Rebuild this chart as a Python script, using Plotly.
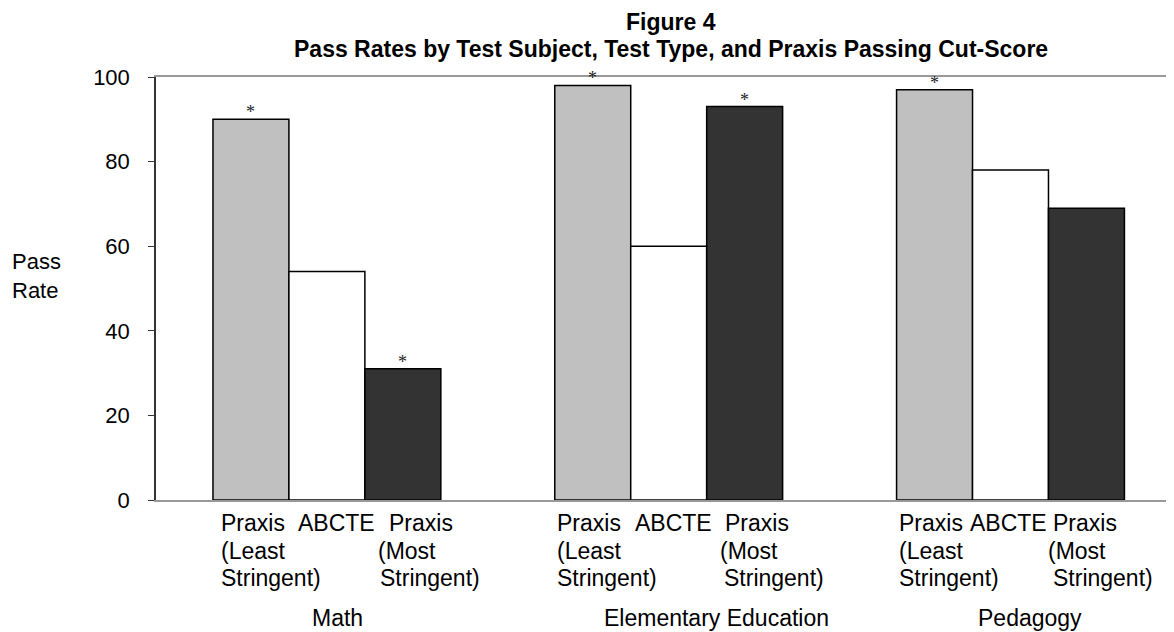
import plotly.graph_objects as go

# ---- data ----
groups = ["Math", "Elementary Education", "Pedagogy"]
series_names = ["Praxis (Least Stringent)", "ABCTE", "Praxis (Most Stringent)"]
praxis_least = [90, 98, 97]
abcte = [54, 60, 78]
praxis_most = [31, 93, 69]
# significance markers (asterisks) per series
sig_least = [True, True, True]
sig_abcte = [False, False, False]
sig_most = [True, True, False]
y_ticks = [0, 20, 40, 60, 80, 100]

title_line1 = "Figure 4"
title_line2 = "Pass Rates by Test Subject, Test Type, and Praxis Passing Cut-Score"
y_title = "Pass<br>Rate"

# ---- style ----
OFF = 8  # default page body margin
W, H = 1174 - OFF, 632 - OFF
ML, MR, MT, MB = 156 - OFF, 0, 77 - OFF, 132
PW = W - ML - MR
PH = H - MT - MB
CAT_PX = 341.8  # pixels per category
x_range = [-0.5, -0.5 + PW / CAT_PX]
bargap = 1 / 3
bar_w = (1 - bargap) / 3
colors = ["#C0C0C0", "#FFFFFF", "#333333"]
FONT = "Liberation Sans, Arial, sans-serif"
LBL = 23
TICK = 22

series_vals = [praxis_least, abcte, praxis_most]
series_sig = [sig_least, sig_abcte, sig_most]
xs = list(range(len(groups)))

fig = go.Figure()
for name, vals, col in zip(series_names, series_vals, colors):
    fig.add_trace(go.Bar(
        x=xs, y=vals, name=name,
        marker=dict(color=col, line=dict(color="#000000", width=1.5)),
        hoverinfo="x+y",
    ))

annotations = []
# asterisks
for k, (vals, sigs) in enumerate(zip(series_vals, series_sig)):
    for g, (v, s) in enumerate(zip(vals, sigs)):
        if s:
            annotations.append(dict(
                x=g + (k - 1) * bar_w, y=v, xref="x", yref="y",
                text="*", showarrow=False, yanchor="bottom", xanchor="center",
                yshift=-5, font=dict(family="Liberation Serif, Times New Roman, serif", size=18, color="#222222"),
            ))

# per-bar category labels (three lines each), offsets relative to group centre (px)
label_lines = [
    ["Praxis", "(Least", "Stringent)"],
    ["ABCTE"],
    ["Praxis", "(Most", "Stringent)"],
]
label_offsets = [
    [[-108, -108, -108], [-31], [60, 49, 51]],
    [[-114, -114, -114], [-36], [54, 49, 53]],
    [[-114, -114, -114], [-43], [40, 35, 40]],
]
group_label_offsets = [11, 48, 19]
LINE_PX = 27.5
for g in range(len(groups)):
    for k, lines in enumerate(label_lines):
        for i, t in enumerate(lines):
            annotations.append(dict(
                x=g, y=0, xref="x", yref="paper", text=t, showarrow=False,
                xanchor="left", yanchor="top",
                xshift=label_offsets[g][k][i], yshift=-8 - i * LINE_PX,
                font=dict(family=FONT, size=LBL, color="#000000"),
            ))
    annotations.append(dict(
        x=g, y=0, xref="x", yref="paper", text=groups[g], showarrow=False,
        xanchor="center", yanchor="top", xshift=group_label_offsets[g], yshift=-103,
        font=dict(family=FONT, size=LBL, color="#000000"),
    ))

# y-axis title
annotations.append(dict(
    x=(10 - OFF - ML) / PW, y=(H - MB - (276 - OFF)) / PH, xref="paper", yref="paper",
    text=y_title, showarrow=False, xanchor="left", yanchor="middle", align="left",
    font=dict(family=FONT, size=TICK, color="#000000"),
))
# title
TX = (671 - OFF - ML) / PW
annotations.append(dict(x=TX, y=1, xref="paper", yref="paper", text="<b>%s</b>" % title_line1,
                        showarrow=False, xanchor="center", yanchor="top", yshift=69, borderpad=0,
                        font=dict(family=FONT, size=23, color="#000000")))
annotations.append(dict(x=TX, y=1, xref="paper", yref="paper", text="<b>%s</b>" % title_line2,
                        showarrow=False, xanchor="center", yanchor="top", yshift=42, borderpad=0,
                        font=dict(family=FONT, size=23, color="#000000")))

fig.update_layout(
    width=W, height=H,
    margin=dict(l=ML, r=MR, t=MT, b=MB, pad=0),
    paper_bgcolor="white", plot_bgcolor="white",
    barmode="group", bargap=bargap, bargroupgap=0,
    showlegend=False,
    annotations=annotations,
    font=dict(family=FONT, size=LBL, color="#000000"),
    xaxis=dict(range=x_range, showticklabels=False, ticks="", showgrid=False, zeroline=False,
               showline=True, linecolor="#999999", linewidth=1.5, mirror=True, layer="below traces",
               fixedrange=True),
    yaxis=dict(range=[0, 100], tickvals=y_ticks, ticks="outside", ticklen=6, tickcolor="#333333",
               tickwidth=1.2, showline=True, linecolor="#333333", linewidth=1.5, showgrid=False,
               zeroline=False, ticklabelstandoff=14,
               tickfont=dict(family=FONT, size=TICK, color="#000000"), fixedrange=True),
)

fig.write_html("out.html")
